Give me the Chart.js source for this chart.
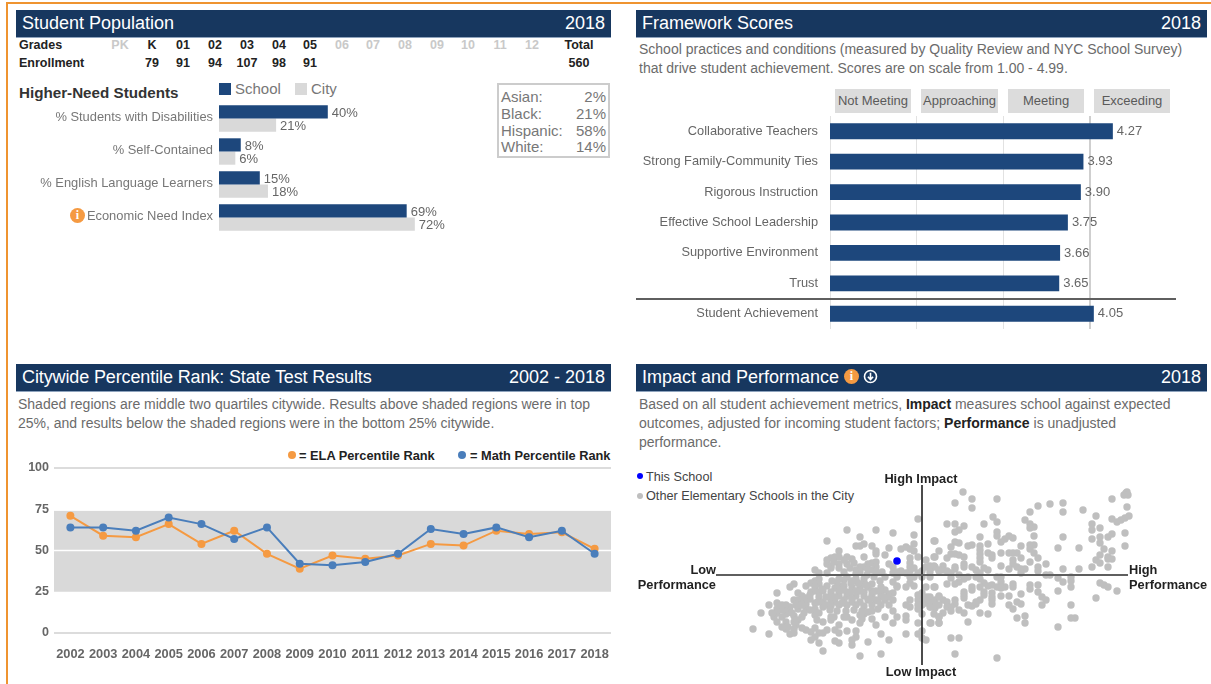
<!DOCTYPE html>
<html><head><meta charset="utf-8">
<script src="https://cdn.jsdelivr.net/npm/chart.js@4"></script>
<style>
html,body{margin:0;padding:0;background:#fff;width:1211px;height:684px;overflow:hidden}
body{font-family:"Liberation Sans",Arial,sans-serif;color:#666;position:relative;filter:blur(0.35px)}
.a{position:absolute;white-space:nowrap}
.hd{position:absolute;height:27px;background:#17375f;color:#fff;font-size:18px;line-height:26px;border-bottom:1px solid #8ea3bd;box-sizing:content-box}
.hd .t{position:absolute;left:6px;top:0}
.hd .y{position:absolute;right:6px;top:0}
.g{font-size:12.5px;font-weight:bold;color:#222;transform:translateX(-50%);line-height:14px}
.off{color:#c9c9c9}
.d{font-size:14px;color:#6b6b6b;line-height:18px}
.d b{color:#222}
.ico{position:absolute;border-radius:50%;background:#f59a42;color:#fff;font-weight:bold;text-align:center;font-family:"Liberation Serif",serif}
.fb{position:absolute;background:#dcdcdc;color:#5a5a5a;font-size:13px;line-height:24px;text-align:center;top:89px;height:24px}
.lab{font-size:12.8px;font-weight:bold;color:#222;line-height:15px}
.lg{font-size:12.8px;font-weight:bold;color:#222;line-height:15px}
canvas{position:absolute;display:block}
</style></head>
<body>
<div class="a" style="left:6px;top:2px;width:1205px;height:2px;background:#ef9430"></div>
<div class="a" style="left:6px;top:2px;width:2px;height:682px;background:#ef9430"></div>

<div class="hd" style="left:16px;top:10px;width:595px"><span class="t">Student Population</span><span class="y">2018</span></div>
<div class="hd" style="left:636px;top:10px;width:571px"><span class="t">Framework Scores</span><span class="y">2018</span></div>
<div class="hd" style="left:16px;top:364px;width:595px"><span class="t" style="letter-spacing:-0.12px">Citywide Percentile Rank: State Test Results</span><span class="y">2002 - 2018</span></div>
<div class="hd" style="left:636px;top:364px;width:571px"><span class="t">Impact and Performance</span><span class="y">2018</span>
  <span class="ico" style="left:208px;top:5px;width:15px;height:15px;font-size:12px;line-height:15px">i</span>
  <svg style="position:absolute;left:227px;top:5px" width="15" height="15" viewBox="0 0 15 15"><circle cx="7.5" cy="7.5" r="6" fill="none" stroke="#fff" stroke-width="1.6"/><path d="M7.5 3.8V10M4.9 7.8L7.5 10.6L10.1 7.8" fill="none" stroke="#fff" stroke-width="1.6"/></svg>
</div>

<div id="grades"></div>

<div class="a" style="left:19px;top:84px;font-size:15.2px;font-weight:bold;color:#333;line-height:18px">Higher-Need Students</div>
<div class="a" style="left:219px;top:83px;width:12px;height:12px;background:#1d477c"></div>
<div class="a" style="left:235px;top:80px;font-size:15px;color:#777;line-height:18px">School</div>
<div class="a" style="left:295px;top:83px;width:12px;height:12px;background:#d9d9d9"></div>
<div class="a" style="left:311px;top:80px;font-size:15px;color:#777;line-height:18px">City</div>

<div class="a" style="left:497px;top:83px;border:2px solid #ccc;box-sizing:content-box;width:109px;height:71px"></div>
<div id="race"></div>

<div class="ico" style="left:70px;top:208px;width:15px;height:15px;font-size:12px;line-height:15px">i</div>

<div class="a d" style="left:639px;top:40px">School practices and conditions (measured by Quality Review and NYC School Survey)</div>
<div class="a d" style="left:639px;top:59px">that drive student achievement. Scores are on scale from 1.00 - 4.99.</div>
<div id="bands"></div>

<div class="a d" style="left:18px;top:395px">Shaded regions are middle two quartiles citywide. Results above shaded regions were in top</div>
<div class="a d" style="left:18px;top:414px">25%, and results below the shaded regions were in the bottom 25% citywide.</div>

<div class="a" style="left:288px;top:451px;width:8px;height:8px;border-radius:50%;background:#f59a42"></div>
<div class="a lg" style="left:299px;top:448px">= ELA Percentile Rank</div>
<div class="a" style="left:458px;top:451px;width:8px;height:8px;border-radius:50%;background:#4a7ebb"></div>
<div class="a lg" style="left:470px;top:448px">= Math Percentile Rank</div>

<div class="a d" style="left:639px;top:395px">Based on all student achievement metrics, <b>Impact</b> measures school against expected</div>
<div class="a d" style="left:639px;top:414px">outcomes, adjusted for incoming student factors; <b>Performance</b> is unadjusted</div>
<div class="a d" style="left:639px;top:433px">performance.</div>

<div class="a" style="left:637px;top:473px;width:6px;height:6px;border-radius:50%;background:#0000ff"></div>
<div class="a" style="left:646px;top:470px;font-size:12.7px;color:#444;line-height:15px">This School</div>
<div class="a" style="left:637px;top:493px;width:6px;height:6px;border-radius:50%;background:#bfbfbf"></div>
<div class="a" style="left:646px;top:489px;font-size:12.7px;color:#444;line-height:15px">Other Elementary Schools in the City</div>

<canvas id="cPop" width="475" height="134" style="left:16px;top:100px"></canvas>
<canvas id="cFw" width="540" height="213" style="left:636px;top:116px"></canvas>
<div class="a" style="left:636px;top:298px;width:540px;height:2px;background:#5f5f5f"></div>
<canvas id="cLine" width="603" height="205" style="left:8px;top:460px"></canvas>
<canvas id="cSc" width="440" height="204" style="left:702px;top:473px"></canvas>

<div class="a lab" style="left:921px;top:471px;transform:translateX(-50%)">High Impact</div>
<div class="a lab" style="left:921px;top:664px;transform:translateX(-50%)">Low Impact</div>
<div class="a lab" style="right:495px;top:562px;text-align:right">Low<br>Performance</div>
<div class="a lab" style="left:1129px;top:562px">High<br>Performance</div>

<script>
const gradeLabels=["PK","K","01","02","03","04","05","06","07","08","09","10","11","12"];
const enrollment=["","79","91","94","107","98","91","","","","","","",""];
const enrollmentTotal="560";
const raceNames=["Asian:","Black:","Hispanic:","White:"];
const racePercents=["2%","21%","58%","14%"];
const needCategories=["% Students with Disabilities","% Self-Contained","% English Language Learners","Economic Need Index"];
const needSchool=[40,8,15,69];
const needCity=[21,6,18,72];
const frameworkBands=["Not Meeting","Approaching","Meeting","Exceeding"];
const frameworkCategories=["Collaborative Teachers","Strong Family-Community Ties","Rigorous Instruction","Effective School Leadership","Supportive Environment","Trust","Student Achievement"];
const frameworkScores=[4.27,3.93,3.90,3.75,3.66,3.65,4.05];
const years=["2002","2003","2004","2005","2006","2007","2008","2009","2010","2011","2012","2013","2014","2015","2016","2017","2018"];
const elaRank=[71,59,58,66,54,62,48,39,47,45,47,54,53,62,60,61,51];
const mathRank=[64,64,62,70,66,57,64,42,41,43,48,63,60,64,58,62,48];
const quartileLow=25, quartileHigh=74;
const thisSchool=[[-25,14]];
const otherSchools=[[41,83],[33,72],[50,76],[50,67],[75,76],[116,69],[128,71],[141,72],[141,63],[108,63],[161,65],[190,76],[204,82],[205,83],[202,80],[206,80],[205,68],[174,59],[190,56],[195,53],[199,55],[203,57],[207,59],[170,51],[170,45],[178,47],[170,36],[178,38],[178,32],[186,38],[190,41],[203,42],[203,29],[157,27],[136,27],[141,38],[71,58],[75,53],[62,51],[25,51],[33,51],[42,49],[37,45],[33,43],[75,43],[75,39],[103,55],[108,51],[112,48],[108,47],[112,39],[58,38],[13,34],[33,33],[37,32],[29,28],[46,29],[50,30],[66,31],[79,33],[83,36],[87,39],[91,37],[99,29],[108,30],[112,30],[108,26],[58,29],[58,25],[58,21],[58,17],[58,13],[17,24],[13,18],[25,17],[29,21],[33,21],[37,20],[42,18],[66,22],[70,20],[70,17],[79,22],[87,22],[91,22],[95,22],[112,22],[116,17],[99,17],[91,15],[91,11],[108,13],[116,8],[116,4],[124,11],[124,0],[128,0],[79,9],[87,6],[95,8],[99,6],[103,6],[99,2],[50,8],[54,5],[62,7],[66,5],[58,2],[42,11],[42,8],[33,8],[33,6],[21,9],[21,5],[13,8],[9,7],[17,4],[25,4],[29,2],[37,0],[141,6],[157,6],[170,8],[174,15],[178,20],[178,12],[182,26],[186,8],[186,18],[190,24],[190,16],[186,16],
[29,-3],[46,-2],[42,-4],[37,-7],[33,-9],[25,-9],[13,-12],[54,-2],[58,-4],[62,-8],[66,-11],[58,-12],[50,-12],[50,-15],[62,-17],[62,-20],[70,-10],[75,-2],[79,-2],[79,-7],[75,-12],[83,-12],[79,-13],[91,-9],[91,-12],[108,-10],[108,-14],[116,-10],[116,-17],[136,-3],[141,-7],[149,-2],[149,-6],[149,-12],[136,-16],[178,-8],[182,-10],[186,-12],[195,-16],[174,-23],[42,-17],[42,-20],[42,-23],[70,-18],[70,-22],[70,-25],[70,-29],[79,-21],[87,-21],[99,-19],[95,-27],[99,-29],[87,-30],[91,-34],[120,-22],[124,-25],[120,-30],[149,-30],[149,-43],[153,-43],[103,-41],[95,-43],[103,-48],[136,-52],[58,-25],[54,-29],[50,-31],[54,-27],[46,-30],[58,-38],[66,-39],[46,-47],[13,-25],[17,-22],[21,-25],[25,-27],[33,-25],[33,-29],[29,-32],[25,-32],[29,-36],[21,-38],[17,-42],[17,-48],[9,-48],[9,-28],[9,-32],[13,-33],[37,-35],[42,-38],[29,-63],[37,-63],[33,-79],[75,-83],
[-4,56],[-75,45],[-46,45],[-29,42],[-62,38],[-8,40],[-95,34],[12,34],[-8,31],[-66,29],[-62,29],[-58,31],[-50,29],[-21,26],[-16,28],[-12,26],[-8,24],[-33,27],[-46,24],[-46,21],[-83,24],[-37,20],[-58,18],[-4,18],[-12,17],[-12,12],[-12,8],[4,15],[12,18],[-91,17],[-95,15],[-87,18],[-83,18],[-75,18],[-70,16],[-95,11],[-91,9],[-83,11],[-75,11],[-91,7],[-83,7],[-78,3],[-50,12],[-46,13],[-54,11],[-58,8],[-62,8],[-66,5],[-46,8],[-33,11],[-29,8],[-21,4],[-12,4],[-8,7],[0,4],[4,8],[8,9],[12,9],[-107,5],[-103,2],[-95,2],[-62,3],[-54,5],[-50,5],[-46,3],[-29,2],[-25,3],[-16,2],[8,3],[17,5],
[-37,-2],[-25,-2],[-12,-2],[-8,-2],[0,-2],[8,-2],[-29,-7],[-25,-11],[-12,-8],[-8,-11],[-58,-4],[-58,-8],[-66,-4],[-75,-2],[-78,-5],[-83,-4],[-103,-4],[-107,-6],[-111,-8],[-116,-11],[-103,-9],[-107,-12],[-128,-9],[-132,-12],[-145,-18],[12,-12],[-25,-12],[-50,-9],[-41,-12],[-37,-15],[-62,-12],[-70,-12],[-78,-11],[-83,-11],[-87,-13],[-95,-11],
[-124,-18],[-120,-21],[-111,-17],[-107,-16],[-103,-17],[-99,-16],[-91,-17],[-83,-17],[-75,-17],[-66,-16],[-58,-17],[-50,-16],[-41,-17],[-33,-19],[-29,-18],
[-128,-25],[-124,-25],[-120,-25],[-116,-23],[-103,-22],[-91,-21],[-83,-21],[-75,-21],[-66,-21],[-58,-21],[-50,-20],[-41,-21],[-33,-22],[-4,-20],[0,-18],[-12,-25],[0,-22],[8,-22],[17,-21],
[-153,-30],[-145,-28],[-136,-30],[-132,-32],[-124,-29],[-116,-29],[-107,-28],[-99,-27],[-91,-25],[-87,-27],[-78,-25],[-70,-27],[-62,-27],[-54,-25],[-46,-25],[-37,-25],[-29,-25],[-4,-25],[4,-28],[0,-27],[-16,-30],[-12,-32],[0,-30],[12,-28],[8,-32],[17,-30],
[-161,-38],[-145,-34],[-145,-38],[-136,-35],[-132,-37],[-124,-34],[-116,-33],[-107,-34],[-99,-32],[-91,-31],[-83,-30],[-75,-30],[-66,-30],[-58,-31],[-50,-30],[-41,-30],[-29,-36],[-4,-34],[0,-39],
[-148,-42],[-140,-42],[-136,-39],[-128,-41],[-120,-42],[-107,-40],[-103,-38],[-91,-42],[-78,-42],[-75,-42],[-62,-40],[-58,-39],[-54,-37],[-50,-44],[-37,-42],[-25,-42],[-16,-41],[12,-39],[17,-42],
[-145,-47],[-136,-47],[-128,-47],[-124,-45],[-99,-47],[-91,-45],[-62,-48],[-46,-50],[-29,-48],[-16,-45],[-4,-48],[8,-48],[17,-48],
[-169,-54],[-153,-59],[-136,-54],[-132,-59],[-128,-58],[-116,-55],[-111,-57],[-107,-53],[-103,-58],[-99,-58],[-95,-55],[-83,-50],[-87,-55],[-83,-58],[-75,-56],[-66,-56],[-41,-59],[-16,-59],[-4,-59],[0,-56],
[-111,-65],[-107,-62],[-103,-68],[-99,-76],[-87,-66],[-83,-68],[-70,-70],[-66,-62],[-70,-65],[-54,-67],[-33,-65],[0,-63],[4,-65],[-62,-81],[-41,-79],
[-112,-24],[-104,-27],[-96,-22],[-95,-30],[-87,-22],[-85,-7],[-79,-15],[-71,-8],[-72,-18],[-64,-8],[-62,-16],[-54,-12],[-52,-24],[-46,-16],[-44,-26],[-38,-22],[-33,-30],[-70,-24],[-80,-28],[-92,-35],[-85,-36],[-76,-36],[-68,-35],[-60,-36],[-50,-36],[-44,-34],[-112,-35],[-118,-38],[-126,-30],[-130,-38],[-140,-35],[-140,-30],[-150,-38],[-126,-50],[-134,-52],[-120,-30],[-105,-45],[-88,-42],[-70,-45],[-60,-44],[-56,-10],[-42,-6],[-70,-6],[-90,-6],[-100,-14],[-112,-20],[-72,7],[-68,12],[-88,13],[-78,15],[-55,0],[-48,-2],[-66,1],[-40,3],[-128,-54],[-140,-52],[-120,-53],[-4,2],[-16,-12],[4,-12],[5,-22],[-4,-30]];
const axisH=[[-206,0],[206,0]];
const axisV=[[0,-90],[0,90]];

const FONT='"Liberation Sans",Arial,sans-serif';
Chart.defaults.font.family=FONT;
Chart.defaults.animation=false;
Chart.defaults.responsive=false;
Chart.defaults.maintainAspectRatio=false;
Chart.defaults.devicePixelRatio=1;
Chart.defaults.plugins.legend.display=false;
Chart.defaults.plugins.tooltip.enabled=false;

const noPad=s=>{s.paddingTop=0;s.paddingBottom=0;s.paddingLeft=0;s.paddingRight=0;};

// HTML tables from data
const gridCols=[120,152,183,215,247,279,310,342,373,405,437,468,500,532];
let h='<div class="a g" style="left:19px;top:38px;transform:none">Grades</div><div class="a g" style="left:19px;top:56px;transform:none">Enrollment</div>';
gradeLabels.forEach((g,i)=>{
  const on=enrollment[i]!=="";
  h+=`<div class="a g${on?'':' off'}" style="left:${gridCols[i]}px;top:38px">${g}</div>`;
  if(on)h+=`<div class="a g" style="left:${gridCols[i]}px;top:56px">${enrollment[i]}</div>`;
});
h+=`<div class="a g" style="left:579px;top:38px">Total</div><div class="a g" style="left:579px;top:56px">${enrollmentTotal}</div>`;
document.getElementById('grades').innerHTML=h;
const raceY=[88,105,122,138];
document.getElementById('race').innerHTML=raceNames.map((n,i)=>`<div class="a" style="left:501px;top:${raceY[i]}px;font-size:15px;line-height:18px;color:#777">${n}</div><div class="a" style="right:605px;top:${raceY[i]}px;font-size:15px;line-height:18px;color:#777">${racePercents[i]}</div>`).join('');
const bandX=[[835,76],[921,77],[1008,76],[1094,76]];
document.getElementById('bands').innerHTML=frameworkBands.map((b,i)=>`<div class="fb" style="left:${bandX[i][0]}px;width:${bandX[i][1]}px">${b}</div>`).join('');

const valueLabels=(fmt,dy)=>({id:'valueLabels',afterDatasetsDraw(c){
  const ctx=c.ctx;ctx.save();ctx.font='13px '+FONT;ctx.fillStyle='#666';ctx.textBaseline='middle';ctx.textAlign='left';
  c.data.datasets.forEach((ds,di)=>{c.getDatasetMeta(di).data.forEach((el,i)=>{ctx.fillText(fmt(ds.data[i]),el.x+4,el.y+dy[di]);});});
  ctx.restore();}});

new Chart('cPop',{type:'bar',
 data:{labels:needCategories,datasets:[
  {label:'School',data:needSchool,backgroundColor:'#1d477c',categoryPercentage:0.8,barPercentage:1},
  {label:'City',data:needCity,backgroundColor:'#d9d9d9',categoryPercentage:0.8,barPercentage:1}]},
 options:{indexAxis:'y',layout:{autoPadding:false,padding:{top:2,bottom:0,left:0,right:0}},
  scales:{x:{display:false,min:0,max:100},
   y:{afterFit(s){s.width=203;noPad(s);},grid:{display:false,drawTicks:false},border:{display:false},
      ticks:{color:'#777',font:{size:12.9},padding:6,labelOffset:-1,autoSkip:false}}}},
 plugins:[valueLabels(v=>v+'%',[2,1])]});

new Chart('cFw',{type:'bar',
 data:{labels:frameworkCategories,datasets:[{data:frameworkScores,backgroundColor:'#1d477c',categoryPercentage:0.52,barPercentage:1}]},
 options:{indexAxis:'y',layout:{autoPadding:false},
  scales:{x:{display:true,min:1,max:5,position:'top',afterFit(s){s.height=0;noPad(s);},
      ticks:{display:false,stepSize:1},border:{display:false},
      grid:{drawTicks:false,color:c=>c.tick.value===5?'rgba(0,0,0,0)':(c.tick.value===4?'#cfcfcf':'#e2e2e2'),lineWidth:c=>c.tick.value===4?2:1}},
   y:{afterFit(s){s.width=194;noPad(s);},grid:{display:false,drawTicks:false},border:{display:false},
      ticks:{color:'#666',font:{size:12.8},padding:12,autoSkip:false}}}},
 plugins:[valueLabels(v=>v.toFixed(2),[0])]});

const bandPlugin={id:'band',beforeDatasetsDraw(c){
  const y=c.scales.y,a=c.chartArea,ctx=c.ctx;const t=y.getPixelForValue(quartileHigh),b=y.getPixelForValue(quartileLow);
  ctx.save();ctx.fillStyle='#d9d9d9';ctx.fillRect(a.left,t,a.right-a.left,b-t);
  ctx.strokeStyle='#fff';ctx.lineWidth=1.5;const m=y.getPixelForValue(50);ctx.beginPath();ctx.moveTo(a.left,m);ctx.lineTo(a.right,m);ctx.stroke();ctx.restore();}};
new Chart('cLine',{type:'line',
 data:{labels:years,datasets:[
  {label:'ELA',data:elaRank,borderColor:'#f59a42',backgroundColor:'#f59a42',borderWidth:2,pointRadius:4,pointBackgroundColor:'#f59a42',pointBorderWidth:0,order:2},
  {label:'Math',data:mathRank,borderColor:'#4a7ebb',backgroundColor:'#4a7ebb',borderWidth:2,pointRadius:4,pointBackgroundColor:'#4a7ebb',pointBorderWidth:0,order:1}]},
 options:{layout:{autoPadding:false,padding:{top:8}},
  scales:{x:{offset:true,afterFit(s){s.height=32;noPad(s);},grid:{display:false,drawTicks:false},border:{display:false},
     ticks:{color:'#666',font:{size:12.8,weight:'bold'},padding:14,maxRotation:0,autoSkip:false}},
   y:{min:0,max:100,afterFit(s){s.width=46;noPad(s);},border:{display:false},
     grid:{drawTicks:false,color:c=>(c.tick.value===0||c.tick.value===100)?'#dcdcdc':'rgba(0,0,0,0)',lineWidth:2},
     ticks:{stepSize:25,color:'#666',font:{size:12.5,weight:'bold'},padding:5}}}},
 plugins:[bandPlugin]});

new Chart('cSc',{type:'scatter',
 data:{datasets:[
  {label:'This School',data:thisSchool.map(p=>({x:p[0],y:p[1]})),backgroundColor:'#0000ff',pointRadius:3.8,pointBorderWidth:0,order:0},
  {type:'line',data:axisH.map(p=>({x:p[0],y:p[1]})),borderColor:'#5f5f5f',borderWidth:2,pointRadius:0,order:1},
  {type:'line',data:axisV.map(p=>({x:p[0],y:p[1]})),borderColor:'#111',borderWidth:1.5,pointRadius:0,order:1},
  {label:'Other Elementary Schools in the City',data:otherSchools.map(p=>({x:p[0],y:p[1]})),backgroundColor:'#bfbfbf',pointRadius:3.7,pointBorderWidth:0,order:2}]},
 options:{layout:{autoPadding:false},scales:{x:{display:false,min:-220,max:220},y:{display:false,min:-102,max:102}}}});
</script>
</body></html>
